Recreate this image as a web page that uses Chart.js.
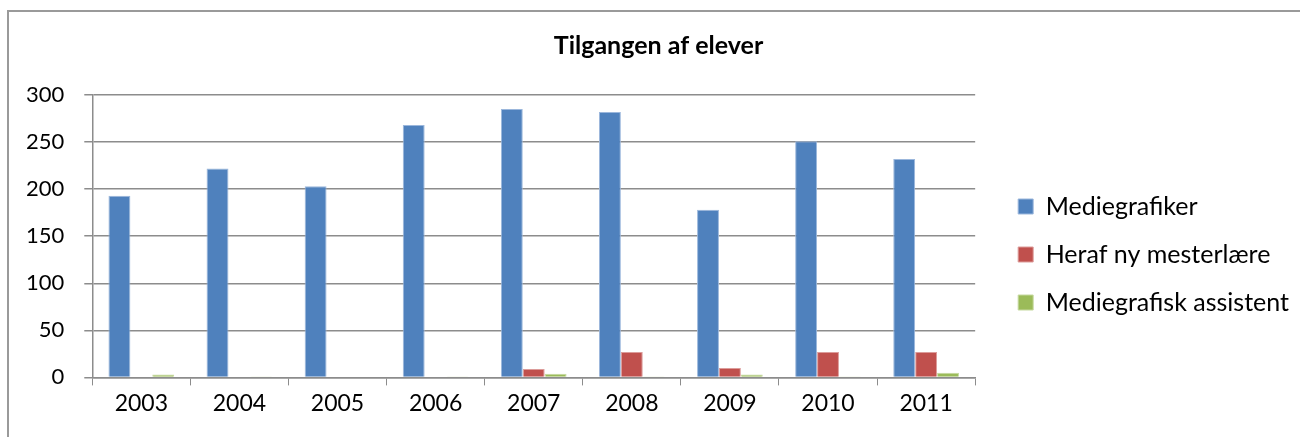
<!DOCTYPE html>
<html>
<head>
<meta charset="utf-8">
<script src="https://cdn.jsdelivr.net/npm/chart.js@4/dist/chart.umd.min.js"></script>
<style>
  html, body { margin: 0; padding: 0; background: #fff; overflow: hidden; }
  #frame {
    position: absolute; left: 7px; top: 10px;
    width: 1320px; height: 440px;
    border-left: 2px solid #9a9a9a; border-top: 2px solid #9a9a9a;
  }
  #wrap { position: absolute; left: 0; top: 0; width: 1312px; height: 425px; }
</style>
</head>
<body>
<div id="frame"><div id="wrap"><canvas id="chart"></canvas></div></div>
<script>
  var years = ['2003', '2004', '2005', '2006', '2007', '2008', '2009', '2010', '2011'];
  var mediegrafiker = [193, 222, 203, 268, 285, 282, 178, 251, 232];
  var mesterlaere = [0, 0, 0, 0, 9, 27, 10, 27, 27];
  var assistent = [3, 1, 0, 1, 4, 1, 3, 1, 5];
  var yTicks = [0, 50, 100, 150, 200, 250, 300];

  var font = 'Lato, "Noto Sans", sans-serif';
  var gridColor = '#8c8c8c';
  var legendGap = 20;
  var legendTail = 12;

  // space between plot area and legend entries, plus blank room after them
  var legendGapPlugin = {
    id: 'legendGap',
    beforeInit: function (chart) {
      var legend = chart.legend;
      var fit = legend.fit;
      legend.fit = function () {
        fit.call(this);
        this.width += legendGap + legendTail;
      };
    },
    afterLayout: function (chart) {
      chart.legend.left += legendGap;
    }
  };

  new Chart(document.getElementById('chart'), {
    type: 'bar',
    data: {
      labels: years,
      datasets: [
        { label: 'Mediegrafiker', data: mediegrafiker, backgroundColor: '#4f81bd', borderColor: '#9bb7dc', borderWidth: 1 },
        { label: 'Heraf ny mesterlære', data: mesterlaere, backgroundColor: '#c0504d', borderColor: '#dc9c9a', borderWidth: 1 },
        { label: 'Mediegrafisk assistent', data: assistent, backgroundColor: '#9bbb59', borderColor: '#c6d9a0', borderWidth: 1 }
      ]
    },
    plugins: [legendGapPlugin],
    options: {
      responsive: true,
      maintainAspectRatio: false,
      animation: false,
      layout: { padding: { left: -3, right: 10, top: 8, bottom: 16 } },
      datasets: { bar: { categoryPercentage: 0.67, barPercentage: 1 } },
      plugins: {
        title: {
          display: true,
          text: 'Tilgangen af elever',
          color: '#000',
          font: { family: font, size: 25, weight: 'bold' },
          padding: { top: 11, bottom: 34 }
        },
        legend: {
          position: 'right',
          title: { display: true, text: '', padding: { top: 0, bottom: 32 }, font: { size: 30 } },
          labels: {
            color: '#000',
            font: { family: font, size: 25 },
            boxWidth: 15,
            boxHeight: 15,
            padding: 23
          }
        },
        tooltip: { enabled: false }
      },
      scales: {
        x: {
          grid: { drawOnChartArea: false, drawTicks: true, tickLength: 8, color: gridColor },
          border: { color: gridColor, width: 1.5 },
          ticks: { color: '#000', font: { family: font, size: 23 }, padding: 4 }
        },
        y: {
          min: 0,
          max: 300,
          afterBuildTicks: function (axis) {
            axis.ticks = yTicks.map(function (v) { return { value: v }; });
          },
          grid: { color: gridColor, lineWidth: 1.5, tickLength: 8 },
          border: { color: gridColor, width: 1.5 },
          ticks: { color: '#000', font: { family: font, size: 22 }, padding: 20 }
        }
      }
    }
  });
</script>
</body>
</html>
